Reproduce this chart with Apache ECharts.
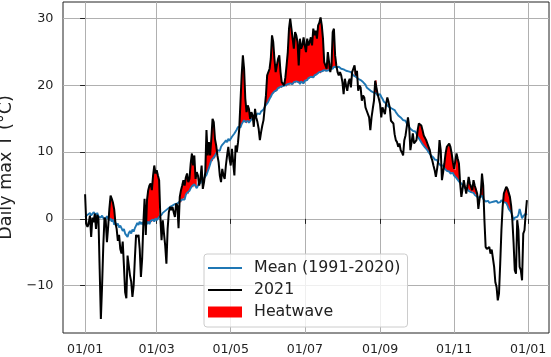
<!DOCTYPE html>
<html lang="en">
<head>
<meta charset="UTF-8">
<title>Daily max T</title>
<style>
  html, body { margin: 0; padding: 0; background: #fff; }
  #main { width: 551px; height: 357px; }
</style>
</head>
<body>
<div id="main"></div>
<script src="https://cdn.jsdelivr.net/npm/echarts@6/dist/echarts.min.js"></script>
<script>
// day index: 0 = 01/01/2021
var tickDays = [0, 59, 120, 181, 243, 304, 365];
var tickLabels = ['01/01', '01/03', '01/05', '01/07', '01/09', '01/11', '01/01'];
var yTicks = [-10, 0, 10, 20, 30];

// climatology of daily max T (1991-2020), one value per day
var meanT = [
    0.3, 0.1, 0.6, 0.4, 0.9, 0.5, 0.7, 1.0, 0.8, 0.6,
    0.9, 0.4, 0.6, 0.2, 0.5, 0.1, 0.3, 0.0, 0.4, 0.2,
    -0.2, 0.1, -0.4, -0.1, -0.9, -0.5, -1.0, -0.7, -1.3, -1.0,
    -1.4, -1.8, -1.5, -2.2, -2.0, -2.7, -2.1, -1.8, -2.2, -1.6,
    -1.9, -1.4, -1.0, -0.6, -0.9, -0.4, -0.8, -0.5, -0.9, -0.6,
    -1.0, -0.7, -0.4, -0.8, -0.3, -0.5, -0.1, -0.4, 0.1, -0.2,
    0.0, 0.3, 0.1, 0.6, 0.9, 0.7, 1.2, 1.0, 1.5, 1.3,
    1.8, 1.6, 2.0, 1.8, 2.2, 2.0, 2.3, 2.1, 2.6, 2.4,
    2.9, 3.1, 2.9, 3.6, 3.9, 3.7, 4.2, 4.6, 4.9, 4.7,
    5.2, 4.9, 4.6, 5.0, 5.6, 5.3, 5.8, 5.6, 6.1, 6.0,
    6.6, 7.1, 7.6, 8.2, 8.8, 8.6, 9.2, 9.0, 9.8, 10.3,
    10.5, 10.2, 10.8, 11.1, 10.9, 11.5, 11.8, 11.5, 12.0, 11.7,
    12.0, 12.3, 12.1, 12.8, 13.1, 13.4, 13.8, 14.0, 13.7, 14.2,
    14.5, 14.8, 14.5, 14.3, 14.7, 14.4, 14.6, 14.9, 15.0, 15.3,
    15.1, 15.5, 15.8, 16.0, 15.7, 16.1, 16.0, 16.4, 16.8, 17.0,
    17.3, 17.6, 18.0, 18.3, 18.7, 18.8, 19.1, 19.0, 19.3, 19.6,
    19.5, 19.8, 19.6, 19.9, 20.1, 20.0, 19.8, 20.2, 20.0, 20.3,
    20.1, 20.2, 20.5, 20.3, 20.6, 20.4, 20.5, 20.2, 20.6, 20.4,
    20.3, 20.7, 20.9, 20.8, 21.1, 21.0, 21.3, 21.1, 21.2, 21.5,
    21.4, 21.7, 21.8, 22.0, 21.8, 22.1, 22.0, 22.3, 22.1, 22.2,
    22.4, 22.3, 22.6, 22.4, 22.5, 22.8, 22.6, 22.7, 22.5, 22.8,
    22.7, 22.5, 22.7, 22.4, 22.6, 22.2, 22.4, 22.1, 22.2, 22.0,
    21.8, 21.5, 21.7, 21.3, 21.4, 21.0, 21.1, 20.8, 20.9, 20.5,
    20.3, 20.1, 19.7, 19.8, 19.4, 19.5, 19.1, 19.2, 18.9, 18.7,
    18.8, 18.5, 18.6, 18.7, 18.3, 18.0, 17.6, 17.7, 17.3, 17.0,
    17.1, 16.7, 16.8, 16.5, 16.6, 16.3, 16.0, 15.8, 15.5, 15.6,
    15.2, 15.0, 14.8, 14.6, 14.7, 14.3, 14.0, 13.8, 13.5, 13.6,
    13.2, 13.0, 13.1, 12.8, 12.3, 12.1, 11.8, 11.6, 11.2, 11.0,
    10.7, 10.5, 10.3, 10.0, 9.8, 9.5, 9.6, 9.2, 8.9, 8.7,
    8.8, 8.4, 8.2, 8.0, 7.8, 8.0, 7.6, 7.5, 7.2, 7.0,
    7.1, 6.8, 7.0, 6.9, 6.5, 6.3, 6.1, 5.9, 5.6, 5.4,
    5.3, 5.1, 4.9, 4.6, 4.4, 4.5, 4.2, 4.3, 4.0, 4.1,
    3.9, 3.6, 3.7, 3.3, 3.5, 3.2, 3.4, 3.5, 3.0, 2.8,
    2.6, 2.5, 2.7, 2.4, 2.6, 2.5, 2.3, 2.6, 2.5, 2.7,
    2.4, 2.6, 2.5, 2.8, 2.7, 2.5, 2.3, 2.4, 2.0, 1.5,
    1.4, 1.0, 0.5, -0.2, 0.2, 0.0, 0.3, 0.6, 1.5, 1.4,
    0.1, 0.4, 0.2, 0.8, 0.6
];

// daily max T in 2021
var t2021 = [
    3.7, -0.8, -1.2, -0.6, 0.5, -2.7, 0.2, -0.5, 0.8, -1.5,
    0.6, 0.2, -7.5, -15.0, -10.0, -4.0, 0.2, -0.2, -3.5, -1.2,
    1.5, 3.5, 3.0, 2.4, 1.4, -0.6, -1.5, -3.3, -2.4, -4.5,
    -5.2, -3.4, -7.0, -11.0, -11.9, -5.5, -7.0, -8.5, -9.4, -11.7,
    -10.0, -6.0, -2.4, -2.7, -2.4, -4.5, -8.7, -6.0, -0.7, 3.0,
    -2.4, 2.8, 4.3, 5.0, 5.3, 4.3, 6.5, 8.0, 6.8, 7.3,
    6.5, 5.8, 0.3, -3.2, -0.2, -2.2, -4.0, -6.7, -1.5, 1.0,
    1.8, 1.3, 1.8, 1.0, 0.3, 2.3, 2.0, -1.4, 3.3, 4.3,
    5.0, 5.8, 5.0, 6.2, 6.8, 5.5, 6.0, 8.3, 9.8, 8.0,
    9.5, 6.0, 7.0, 6.5, 5.0, 6.0, 8.0, 4.5, 5.5, 7.0,
    13.3, 9.5, 11.5, 9.5, 12.0, 15.0, 14.5, 12.0, 11.0, 9.5,
    8.5, 6.5, 5.5, 7.5, 6.5, 6.0, 8.0, 9.5, 10.8, 9.0,
    8.0, 10.5, 8.5, 6.5, 11.0, 10.0, 11.5, 13.5, 17.5, 21.5,
    24.5, 22.5, 18.0, 16.0, 17.0, 16.5, 15.0, 16.0, 15.5, 13.8,
    16.5, 15.2, 14.5, 13.5, 11.8, 13.0, 14.0, 14.8, 15.0, 18.5,
    21.5, 21.7, 22.5, 24.0, 27.5, 26.5, 24.0, 22.0, 23.0, 24.0,
    24.5, 22.0, 20.5, 20.5, 20.0, 21.2, 23.0, 25.0, 28.5, 30.0,
    28.5, 27.0, 25.5, 28.0, 27.5, 26.5, 23.0, 27.0, 25.5, 26.0,
    27.2, 26.0, 25.0, 27.0, 26.0, 26.5, 27.2, 26.0, 28.5, 27.5,
    28.2, 27.0, 29.0, 29.4, 30.2, 29.0, 27.0, 23.5, 23.0, 22.5,
    25.0, 23.5, 22.0, 23.0, 28.0, 28.5, 24.5, 23.0, 22.0, 21.5,
    22.0, 21.5, 20.5, 18.7, 21.0, 20.0, 19.2, 20.5, 21.0, 19.7,
    22.0, 22.2, 23.0, 21.5, 22.2, 19.2, 20.0, 19.7, 17.7, 18.5,
    18.2, 16.7, 16.2, 16.0, 15.2, 13.3, 15.2, 16.5, 17.7, 20.7,
    20.8, 18.7, 18.0, 17.2, 15.2, 16.7, 16.2, 15.7, 17.2, 18.2,
    17.5, 16.7, 14.7, 14.5, 14.3, 12.7, 11.8, 11.5, 10.8, 11.3,
    10.3, 10.0, 9.5, 11.8, 12.5, 13.8, 15.2, 13.8, 10.3, 11.5,
    12.8, 11.3, 11.5, 11.8, 13.3, 14.3, 14.2, 14.0, 13.3, 12.5,
    12.3, 11.8, 11.3, 10.8, 10.3, 9.3, 8.8, 8.0, 7.3, 6.3,
    7.5, 8.8, 11.8, 10.3, 5.8, 7.0, 8.3, 9.8, 10.8, 10.8,
    11.3, 10.8, 9.8, 8.5, 7.5, 7.3, 9.8, 9.0, 8.3, 5.3,
    3.3, 4.5, 5.8, 4.8, 3.8, 5.0, 6.3, 5.3, 4.8, 4.3,
    5.8, 5.0, 4.8, 3.8, 1.5, 3.0, 3.8, 6.8, 5.0, -0.2,
    -4.2, -4.5, -4.7, -4.2, -5.2, -4.6, -4.4, -7.2, -9.5, -10.2,
    -12.2, -11.2, -6.7, -1.7, 1.8, 3.8, 4.3, 4.8, 4.5, 4.3,
    3.3, 2.0, -0.2, -3.5, -7.7, -8.2, -0.2, -1.7, -7.2, -7.7,
    -9.2, -2.2, -1.7, 0.8, 2.8
];

// heatwave spells, [first day, last day]
var heatwaves = [
    [0, 1], [19, 25], [50, 61], [78, 92], [99, 109], [127, 140],
    [149, 208], [222, 225], [238, 242], [272, 284], [295, 310],
    [311, 329], [343, 352], [362, 364]
];

var font = 'DejaVu Sans';
var textColor = '#222';
var lineIcon = 'path://M0,0 L34,0 L34,2 L0,2 Z';

function pairs(arr) {
    return arr.map(function (v, i) { return [i, v]; });
}

// red area between 2021 and the mean, only where 2021 is above
function renderHeatwave(params, api) {
    var span = heatwaves[params.dataIndex];
    var top = [], bottom = [];
    for (var d = span[0]; d <= span[1]; d++) {
        top.push(api.coord([d, Math.max(t2021[d], meanT[d])]));
        bottom.unshift(api.coord([d, meanT[d]]));
    }
    return {
        type: 'polygon',
        shape: { points: top.concat(bottom) },
        style: { fill: api.visual('color') }
    };
}

var myChart = echarts.init(document.getElementById('main'));

var option = {
    animation: false,
    grid: {
        left: 63, right: 2, top: 2, bottom: 24,
        outerBoundsMode: 'none',
        containLabel: false,
        show: true, borderColor: '#222', borderWidth: 1
    },
    legend: {
        orient: 'vertical',
        left: 204, top: 254,
        data: [
            { name: 'Mean (1991-2020)', icon: lineIcon },
            { name: '2021', icon: lineIcon },
            { name: 'Heatwave', icon: 'rect' }
        ],
        itemWidth: 34, itemHeight: 11, itemGap: 6,
        padding: [6, 7, 7, 4],
        backgroundColor: 'rgba(255,255,255,0.8)',
        borderColor: '#ccc', borderWidth: 1, borderRadius: 3,
        selectedMode: false,
        textStyle: { fontFamily: font, fontSize: 15.8, color: textColor, padding: [0, 0, 0, 7] }
    },
    xAxis: {
        type: 'value',
        min: -18.2, max: 382.2,
        axisLine: { show: false },
        axisTick: { show: true, customValues: tickDays, length: 5, lineStyle: { color: textColor } },
        axisLabel: {
            customValues: tickDays,
            margin: 10.5,
            fontFamily: font, fontSize: 12.6, color: textColor,
            formatter: function (v) { return tickLabels[tickDays.indexOf(v)]; }
        },
        splitLine: { show: true, lineStyle: { color: '#b0b0b0', width: 1 } }
    },
    yAxis: {
        type: 'value',
        min: -17.1, max: 32.5,
        name: 'Daily max T (°C)',
        nameLocation: 'middle',
        nameGap: 43,
        nameTextStyle: { fontFamily: font, fontSize: 17.5, color: textColor },
        axisLine: { show: false },
        axisTick: { show: true, customValues: yTicks, length: 5, lineStyle: { color: textColor } },
        axisLabel: {
            customValues: yTicks,
            margin: 9.5,
            fontFamily: font, fontSize: 12.8, color: textColor,
            formatter: function (v) { return String(v).replace('-', '\u2212'); }
        },
        splitLine: { show: true, lineStyle: { color: '#b0b0b0', width: 1 } }
    },
    series: [
        {
            name: 'Mean (1991-2020)',
            type: 'line',
            data: pairs(meanT),
            symbol: 'none',
            color: '#1f77b4',
            lineStyle: { color: '#1f77b4', width: 1.9 }
        },
        {
            name: 'Heatwave',
            type: 'custom',
            data: heatwaves,
            encode: { x: [0, 1] },
            itemStyle: { color: '#ff0000' },
            renderItem: renderHeatwave
        },
        {
            name: '2021',
            type: 'line',
            data: pairs(t2021),
            symbol: 'none',
            color: '#000000',
            lineStyle: { color: '#000000', width: 2 }
        }
    ]
};

myChart.setOption(option);
</script>
</body>
</html>
